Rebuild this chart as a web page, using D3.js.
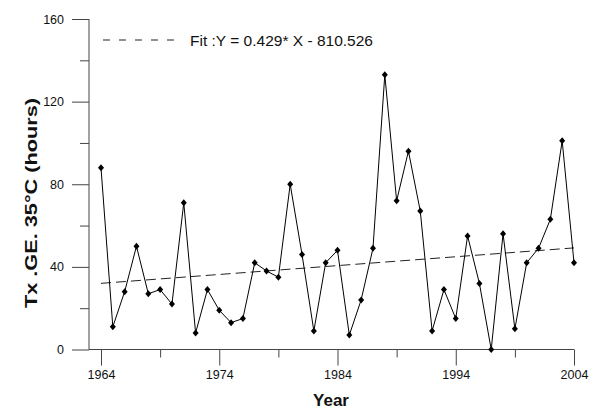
<!DOCTYPE html>
<html>
<head>
<meta charset="utf-8">
<script src="https://cdn.jsdelivr.net/npm/d3@7"></script>
<style>
  html, body { margin: 0; padding: 0; background: #fff; }
  svg { display: block; font-family: Arial, "Liberation Sans", sans-serif; }
</style>
</head>
<body>
<svg id="chart" width="598" height="409"></svg>
<script>
// Annual hours with Tx >= 35°C
const years = d3.range(1964, 2005);
const hours = [88, 11, 28, 50, 27, 29, 22, 71, 8, 29,
               19, 13, 15, 42, 38, 35, 80, 46, 9, 42,
               48, 7, 24, 49, 133, 72, 96, 67, 9, 29,
               15, 55, 32, 0, 56, 10, 42, 49, 63, 101, 42];

// Linear fit
const fitSlope = 0.429;
const fitIntercept = -810.526;
const fitLabel = "Fit :Y = 0.429* X - 810.526";

const xTickMajor = [1964, 1974, 1984, 1994, 2004];
const xTickMinor = [1969, 1979, 1989, 1999];
const yTickMajor = [0, 40, 80, 120, 160];
const yTickMinor = [20, 60, 100, 140];

const svg = d3.select("#chart");
const plotLeft = 89, plotRight = 574, plotTop = 19, plotBottom = 349.5;

const x = d3.scaleLinear().domain([1964, 2004]).range([101, plotRight]);
const y = d3.scaleLinear().domain([0, 160]).range([plotBottom, plotTop]);

const axisColor = "#444";

// Axes: major ticks long and labelled, minor ticks short
const gx = svg.append("g").attr("transform", `translate(0,${plotBottom})`);
gx.call(d3.axisBottom(x).tickValues(xTickMajor).tickFormat(d3.format("d"))
  .tickSize(16).tickSizeOuter(0).tickPadding(5));
gx.append("g").call(d3.axisBottom(x).tickValues(xTickMinor).tickFormat("").tickSize(8).tickSizeOuter(0));
gx.selectAll(".domain").remove();

const gy = svg.append("g").attr("transform", `translate(${plotLeft},0)`);
gy.call(d3.axisLeft(y).tickValues(yTickMajor).tickFormat(d3.format("d"))
  .tickSize(17).tickSizeOuter(0).tickPadding(8));
gy.append("g").call(d3.axisLeft(y).tickValues(yTickMinor).tickFormat("").tickSize(9).tickSizeOuter(0));
gy.selectAll(".domain").remove();

// Axis lines
svg.append("line").attr("x1", plotLeft).attr("x2", plotRight).attr("y1", plotBottom).attr("y2", plotBottom)
  .attr("stroke", axisColor).attr("stroke-width", 1);
svg.append("line").attr("x1", plotLeft).attr("x2", plotLeft).attr("y1", plotTop).attr("y2", plotBottom)
  .attr("stroke", axisColor).attr("stroke-width", 1);

svg.selectAll(".tick line").attr("stroke", axisColor);
svg.selectAll(".tick text").attr("font-size", 12.5).attr("fill", "#111")
  .attr("font-family", "Arial, 'Liberation Sans', sans-serif");

// Fit line
const fitPts = [1964, 2004].map(yr => [yr, fitSlope * yr + fitIntercept]);
svg.append("path")
  .attr("d", d3.line().x(d => x(d[0])).y(d => y(d[1]))(fitPts))
  .attr("fill", "none").attr("stroke", "#222").attr("stroke-width", 1)
  .attr("stroke-dasharray", "10,5");

// Data series
const series = years.map((yr, i) => [yr, hours[i]]);
svg.append("path")
  .attr("d", d3.line().x(d => x(d[0])).y(d => y(d[1]))(series))
  .attr("fill", "none").attr("stroke", "#000").attr("stroke-width", 1);

// Small square-ish diamond markers
const diamond = "M0,-3.5L3,0L0,3.5L-3,0Z";
svg.selectAll(".pt").data(series).enter().append("path")
  .attr("class", "pt")
  .attr("transform", d => `translate(${x(d[0])},${y(d[1])})`)
  .attr("d", diamond)
  .attr("fill", "#000");

// Legend
svg.append("line").attr("x1", 103).attr("x2", 178).attr("y1", 40).attr("y2", 40)
  .attr("stroke", "#222").attr("stroke-width", 1).attr("stroke-dasharray", "7,9");
svg.append("text").attr("x", 190).attr("y", 46).attr("font-size", 14.5).attr("fill", "#111")
  .attr("textLength", 183).attr("lengthAdjust", "spacingAndGlyphs")
  .text(fitLabel);

// Axis titles
svg.append("text").attr("x", 331).attr("y", 405.5).attr("text-anchor", "middle")
  .attr("font-size", 17).attr("font-weight", "bold").attr("fill", "#111").text("Year");
svg.append("text").attr("transform", "translate(37,203) rotate(-90)")
  .attr("text-anchor", "middle").attr("font-size", 17).attr("font-weight", "bold")
  .attr("fill", "#111")
  .attr("textLength", 210).attr("lengthAdjust", "spacingAndGlyphs")
  .text("Tx .GE. 35°C (hours)");
</script>
</body>
</html>
